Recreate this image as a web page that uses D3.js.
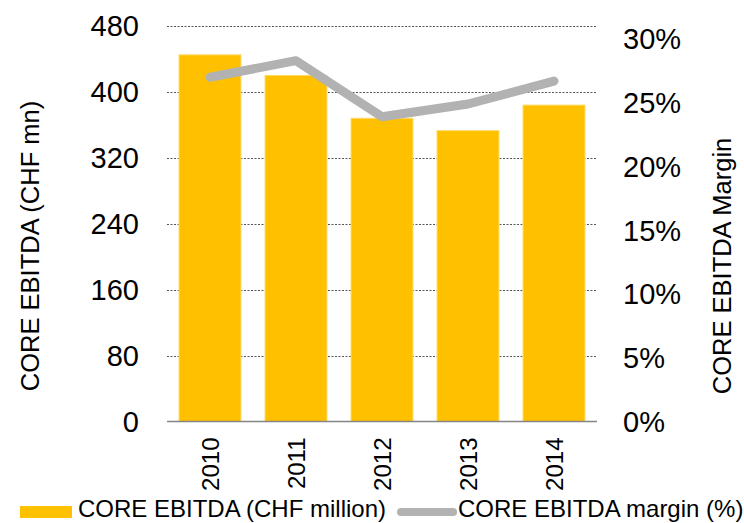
<!DOCTYPE html>
<html>
<head>
<meta charset="utf-8">
<script src="https://cdn.jsdelivr.net/npm/d3@7"></script>
<style>
    body { margin: 0; background: #fff; }
    text { font-family: "Liberation Sans", Arial, sans-serif; fill: #000; }
</style>
</head>
<body>
<div id="chart"></div>
<script>
let w = 744;
let h = 523;
let margin = {top: 26, right: 147, bottom: 102, left: 167};

let years = ['2010', '2011', '2012', '2013', '2014'];
let ebitda = [445, 420, 368, 353, 384];
let marginPct = [0.270, 0.283, 0.239, 0.249, 0.267];
let leftTicks = [0, 80, 160, 240, 320, 400, 480];
let rightTicks = [0, 0.05, 0.10, 0.15, 0.20, 0.25, 0.30];

const loadVisualisation = () => {
    let svg = d3.select('#chart')
        .append('svg')
        .attr('width', w)
        .attr('height', h);

    let y0 = h - margin.bottom + 0.5;

    let xScale = d3.scaleBand()
        .domain(years)
        .range([margin.left, w - margin.right])
        .paddingInner(0.28)
        .paddingOuter(0.14);

    let yScale = d3.scaleLinear()
        .domain([0, 480])
        .range([y0, margin.top]);

    // right axis in Excel sits a bit lower than the left one
    let yRight = d3.scaleLinear()
        .domain([0, 0.30])
        .range([y0, 39]);

    // gridlines
    svg.append('g')
        .selectAll('line')
        .data(leftTicks.filter(d => d > 0))
        .enter()
        .append('line')
        .attr('x1', margin.left)
        .attr('x2', w - margin.right)
        .attr('y1', d => Math.round(yScale(d)) + 0.5)
        .attr('y2', d => Math.round(yScale(d)) + 0.5)
        .attr('stroke', '#555')
        .attr('stroke-width', 1)
        .attr('stroke-dasharray', '2,1.5');

    // bars
    svg.append('g')
        .selectAll('rect')
        .data(ebitda)
        .enter()
        .append('rect')
        .attr('x', (d, i) => xScale(years[i]))
        .attr('y', d => yScale(d))
        .attr('width', xScale.bandwidth())
        .attr('height', d => y0 - yScale(d))
        .attr('fill', '#FFC000')
        .attr('stroke', '#FFD966')
        .attr('stroke-width', 1);

    // x axis line
    svg.append('line')
        .attr('x1', margin.left)
        .attr('x2', w - margin.right)
        .attr('y1', y0)
        .attr('y2', y0)
        .attr('stroke', '#858585')
        .attr('stroke-width', 1.5);

    // margin line
    svg.append('path')
        .datum(marginPct)
        .attr('d', d3.line()
            .x((d, i) => xScale(years[i]) + xScale.bandwidth() / 2)
            .y(d => yRight(d))
        )
        .attr('fill', 'none')
        .attr('stroke', '#B2B2B2')
        .attr('stroke-width', 9)
        .attr('stroke-linecap', 'round')
        .attr('stroke-linejoin', 'round');

    // left tick labels
    svg.append('g')
        .selectAll('text')
        .data(leftTicks)
        .enter()
        .append('text')
        .attr('x', 139)
        .attr('y', d => yScale(d))
        .attr('dy', '0.36em')
        .attr('text-anchor', 'end')
        .style('font-size', '29px')
        .text(d => d);

    // right tick labels
    svg.append('g')
        .selectAll('text')
        .data(rightTicks)
        .enter()
        .append('text')
        .attr('x', 623)
        .attr('y', d => yRight(d))
        .attr('dy', '0.36em')
        .attr('text-anchor', 'start')
        .style('font-size', '29px')
        .text(d => d3.format('.0%')(d));

    // year labels
    svg.append('g')
        .selectAll('text')
        .data(years)
        .enter()
        .append('text')
        .attr('transform', d => 'translate(' + (xScale(d) + xScale.bandwidth() / 2) + ',' + (y0 + 16) + ') rotate(-90)')
        .attr('dy', '0.36em')
        .attr('text-anchor', 'end')
        .style('font-size', '24px')
        .text(d => d);

    // axis titles
    svg.append('text')
        .attr('transform', 'translate(30,' + 246 + ') rotate(-90)')
        .attr('dy', '0.36em')
        .attr('text-anchor', 'middle')
        .style('font-size', '25.5px')
        .text('CORE EBITDA (CHF mn)');

    svg.append('text')
        .attr('transform', 'translate(722,' + 266 + ') rotate(-90)')
        .attr('dy', '0.36em')
        .attr('text-anchor', 'middle')
        .style('font-size', '25.5px')
        .text('CORE EBITDA Margin');

    // legend
    let legend = svg.append('g');

    legend.append('rect')
        .attr('x', 20)
        .attr('y', 506)
        .attr('width', 52)
        .attr('height', 12)
        .attr('fill', '#FFC000');

    legend.append('text')
        .attr('x', 78)
        .attr('y', 517)
        .style('font-size', '24px')
        .text('CORE EBITDA (CHF million)');

    legend.append('line')
        .attr('x1', 401)
        .attr('x2', 453)
        .attr('y1', 512)
        .attr('y2', 512)
        .attr('stroke', '#B2B2B2')
        .attr('stroke-width', 8)
        .attr('stroke-linecap', 'round');

    legend.append('text')
        .attr('x', 458)
        .attr('y', 517)
        .style('font-size', '24px')
        .text('CORE EBITDA margin (%)');
};

window.onload = () => {
    loadVisualisation();
};
</script>
</body>
</html>
